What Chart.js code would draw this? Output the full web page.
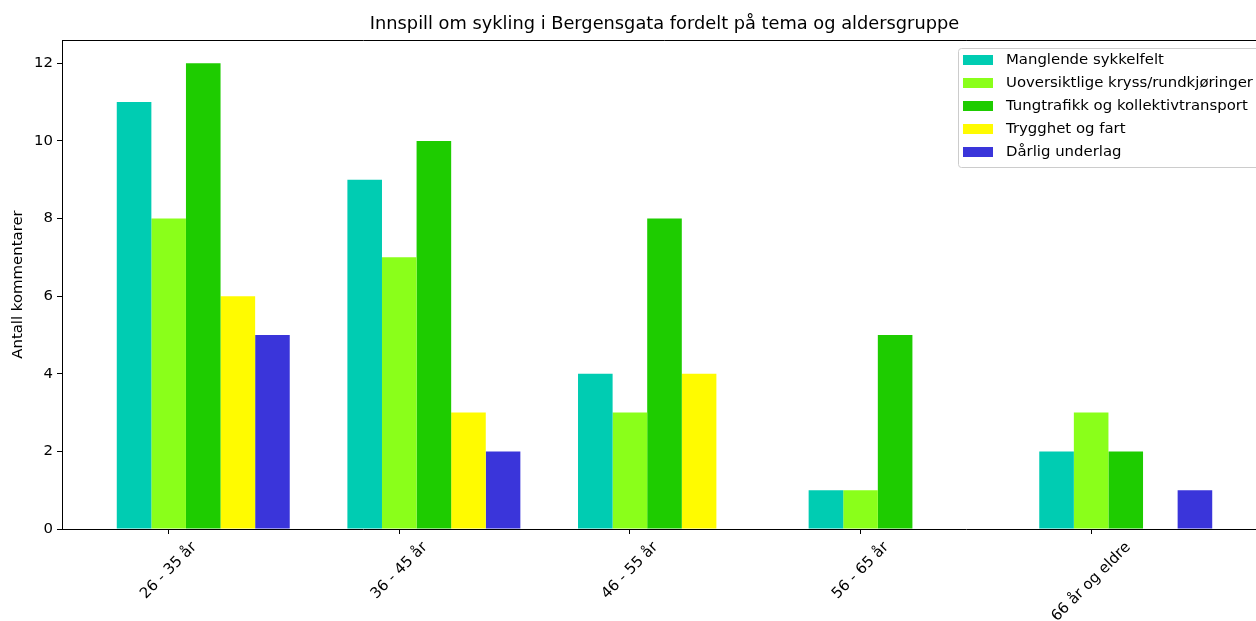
<!DOCTYPE html>
<html>
<head>
<meta charset="utf-8">
<script src="https://cdn.jsdelivr.net/npm/chart.js@4.4.1/dist/chart.umd.min.js"></script>
<style>
  html, body { margin: 0; padding: 0; background: #fff; overflow: hidden; }
  #wrap { width: 1280px; height: 621px; }
</style>
</head>
<body>
<div id="wrap"><canvas id="chart" width="1280" height="621"></canvas></div>
<script>
const ageGroups = ["26 - 35 år", "36 - 45 år", "46 - 55 år", "56 - 65 år", "66 år og eldre"]
const themes = [
  "Manglende sykkelfelt",
  "Uoversiktlige kryss/rundkjøringer",
  "Tungtrafikk og kollektivtransport",
  "Trygghet og fart",
  "Dårlig underlag"
]
const manglendeSykkelfelt = [11, 9, 4, 1, 2]
const uoversiktligeKryss = [8, 7, 3, 1, 3]
const tungtrafikk = [12, 10, 8, 5, 2]
const trygghetFart = [6, 3, 4, 0, 0]
const darligUnderlag = [5, 2, 0, 0, 1]
const yTicks = [0, 2, 4, 6, 8, 10, 12]
const themeColors = ["#00ccb2", "#8aff1a", "#1ecc00", "#fffb00", "#3a35da"]

const series = [manglendeSykkelfelt, uoversiktligeKryss, tungtrafikk, trygghetFart, darligUnderlag]
const barWidth = 0.15
const FONT = "DejaVu Sans"
const FS = 14.9

// matplotlib style autoscale: bars span -1.5w .. n-1+3.5w, plus 5% margin
const lo = -1.5 * barWidth
const hi = (ageGroups.length - 1) + 3.5 * barWidth
const xMin = lo - 0.05 * (hi - lo)
const xMax = hi + 0.05 * (hi - lo)

const extras = {
  id: "extras",
  afterDatasetsDraw(chart) {
    const { ctx, chartArea } = chart
    ctx.save()
    // top + right spines
    ctx.strokeStyle = "#000"
    ctx.lineWidth = 1
    ctx.beginPath()
    ctx.moveTo(chartArea.left, chartArea.top + 0.5)
    ctx.lineTo(chartArea.right + 0.5, chartArea.top + 0.5)
    ctx.lineTo(chartArea.right + 0.5, chartArea.bottom)
    ctx.stroke()

    // legend inside the axes, upper right
    const rowH = 23
    const boxL = 958, boxT = 48, boxR = chartArea.right - 7, boxB = 167
    ctx.fillStyle = "rgba(255,255,255,0.8)"
    ctx.strokeStyle = "#cccccc"
    ctx.beginPath()
    ctx.roundRect(boxL + 0.5, boxT + 0.5, boxR - boxL, boxB - boxT, 3)
    ctx.fill()
    ctx.stroke()
    ctx.font = `${FS}px "${FONT}"`
    ctx.textBaseline = "middle"
    ctx.textAlign = "left"
    chart.data.datasets.forEach((ds, i) => {
      const cy = 60 + i * rowH
      ctx.fillStyle = ds.backgroundColor
      ctx.fillRect(963, cy - 5, 30, 10)
      ctx.fillStyle = "#000"
      ctx.fillText(ds.label, 1006, cy)
    })
    ctx.restore()
  },
  afterDraw(chart) {
    const { ctx, chartArea, scales } = chart
    ctx.save()
    ctx.fillStyle = "#000"
    ctx.font = `17.8px "${FONT}"`
    ctx.textAlign = "center"
    ctx.textBaseline = "alphabetic"
    ctx.fillText("Innspill om sykling i Bergensgata fordelt på tema og aldersgruppe",
      (chartArea.left + chartArea.right) / 2, 29)

    // rotated category labels, box centred under each tick like matplotlib
    ctx.font = `${FS}px "${FONT}"`
    ctx.textBaseline = "middle"
    const h = 17
    ageGroups.forEach((label, i) => {
      const x = scales.x.getPixelForValue(i)
      const w = ctx.measureText(label).width
      const half = (w + h) / (2 * Math.SQRT2)
      ctx.save()
      ctx.translate(x, chartArea.bottom + 10 + half)
      ctx.rotate(-Math.PI / 4)
      ctx.fillText(label, 0, 0)
      ctx.restore()
    })
    ctx.restore()
  }
}

new Chart(document.getElementById("chart"), {
  type: "bar",
  data: {
    datasets: series.map((values, k) => ({
      label: themes[k],
      data: values.map((v, i) => ({ x: i + barWidth, y: v })),
      backgroundColor: themeColors[k],
      borderWidth: 0
    }))
  },
  options: {
    responsive: false,
    animation: false,
    devicePixelRatio: 1,
    categoryPercentage: 0.75,
    barPercentage: 1,
    layout: { padding: { top: 40, right: 13, left: 0, bottom: 0 } },
    plugins: {
      legend: { display: false },
      tooltip: { enabled: false },
      title: { display: false }
    },
    scales: {
      x: {
        type: "linear",
        offset: false,
        min: xMin,
        max: xMax,
        afterBuildTicks: s => { s.ticks = ageGroups.map((_, i) => ({ value: i })) },
        afterFit: s => { s.height = 92 },
        ticks: { display: false },
        grid: { offset: false, drawOnChartArea: false, drawTicks: true, tickLength: 5, color: "#000" },
        border: { display: true, color: "#000", width: 1 }
      },
      y: {
        min: 0,
        max: 12.6,
        afterBuildTicks: s => { s.ticks = yTicks.map(v => ({ value: v })) },
        afterFit: s => { s.width = 62 },
        ticks: { color: "#000", font: { family: FONT, size: FS }, padding: 4 },
        grid: { drawOnChartArea: false, drawTicks: true, tickLength: 5, color: "#000" },
        border: { display: true, color: "#000", width: 1 },
        title: {
          display: true,
          text: "Antall kommentarer",
          color: "#000",
          font: { family: FONT, size: FS },
          padding: { top: 9, bottom: 0 }
        }
      }
    }
  },
  plugins: [extras]
})
</script>
</body>
</html>
